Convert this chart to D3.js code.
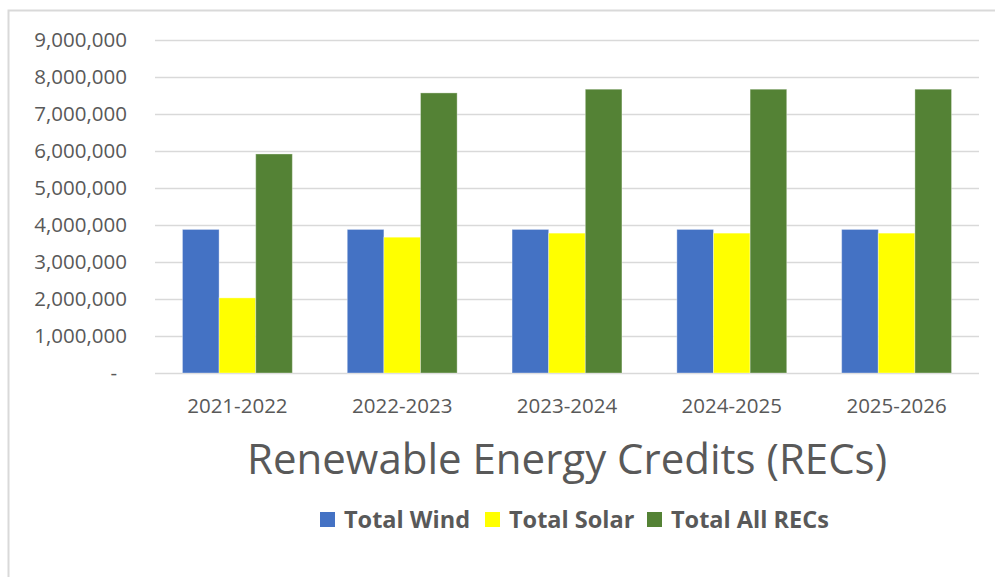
<html>
<head>
<style>
    body { margin: 0; background: #fff; }
    text { fill: #595959; }
    .grid line { stroke: #d9d9d9; stroke-width: 1.5; }
    .ylab { font-family: "Open Sans", sans-serif; font-size: 20.5px; }
    .xlab { font-family: "Open Sans", sans-serif; font-size: 20.5px; }
    .title { font-family: "Open Sans", sans-serif; font-size: 42px; }
    .legend text { font-family: "Open Sans", sans-serif; font-size: 23.5px; font-weight: bold; }
</style>
</head>
<body>
<div id="target"></div>
<script src="https://cdnjs.cloudflare.com/ajax/libs/d3/7.8.5/d3.min.js"></script>
<script>
    // values
    var categories = ['2021-2022', '2022-2023', '2023-2024', '2024-2025', '2025-2026'];
    var seriesNames = ['Total Wind', 'Total Solar', 'Total All RECs'];
    var seriesColors = ['#4472c4', '#ffff00', '#548235'];
    var totalWind = [3880000, 3880000, 3880000, 3880000, 3880000];
    var totalSolar = [2030000, 3670000, 3780000, 3780000, 3780000];
    var totalAll = [5920000, 7570000, 7670000, 7670000, 7670000];
    var yTicks = [0, 1000000, 2000000, 3000000, 4000000, 5000000, 6000000, 7000000, 8000000, 9000000];
    var titleText = 'Renewable Energy Credits (RECs)';

    var seriesValues = [totalWind, totalSolar, totalAll];

    var svg = d3.select('#target')
            .append('svg')
            .attr('width', 995)
            .attr('height', 577);

    // chart frame
    svg.append('rect')
            .attr('x', 8.5)
            .attr('y', 10.5)
            .attr('width', 1100)
            .attr('height', 700)
            .attr('fill', 'none')
            .attr('stroke', '#d9d9d9')
            .attr('stroke-width', 2);

    var x0 = d3.scaleBand()
            .domain(categories)
            .range([155, 979]);

    var y = d3.scaleLinear()
            .domain([0, 9000000])
            .range([373, 40]);

    var barW = x0.step() / 4.5;
    var x1 = d3.scaleBand()
            .domain(seriesNames)
            .range([0, barW * 3]);
    var groupOffset = (x0.step() - barW * 3) / 2;

    // gridlines
    var gGrid = svg.append('g').attr('class', 'grid');
    gGrid.selectAll('line')
            .data(yTicks)
            .enter()
            .append('line')
            .attr('x1', 155)
            .attr('x2', 979)
            .attr('y1', function (d) { return Math.round(y(d)) + 0.5; })
            .attr('y2', function (d) { return Math.round(y(d)) + 0.5; });

    // y labels
    var fmt = d3.format(',');
    svg.append('g').selectAll('text')
            .data(yTicks)
            .enter()
            .append('text')
            .attr('class', 'ylab')
            .attr('text-anchor', 'end')
            .attr('x', function (d) { return d === 0 ? 117 : 127; })
            .attr('y', function (d) { return y(d) + 7; })
            .text(function (d) { return d === 0 ? '-' : fmt(d); });

    // bars
    var gBars = svg.append('g').attr('class', 'bars');
    seriesNames.forEach(function (name, si) {
        gBars.selectAll('rect.s' + si)
                .data(seriesValues[si])
                .enter()
                .append('rect')
                .attr('class', 's' + si)
                .attr('x', function (d, i) { return x0(categories[i]) + groupOffset + x1(name); })
                .attr('width', x1.bandwidth())
                .attr('y', function (d) { return y(d); })
                .attr('height', function (d) { return y(0) - y(d); })
                .attr('fill', seriesColors[si])
                .attr('stroke', 'rgba(255,255,255,0.35)')
                .attr('stroke-width', 1);
    });

    // x labels
    svg.append('g').selectAll('text')
            .data(categories)
            .enter()
            .append('text')
            .attr('class', 'xlab')
            .attr('text-anchor', 'middle')
            .attr('x', function (d) { return x0(d) + x0.bandwidth() / 2; })
            .attr('y', 413)
            .text(function (d) { return d; });

    // title
    svg.append('text')
            .attr('class', 'title')
            .attr('text-anchor', 'middle')
            .attr('x', 567)
            .attr('y', 474)
            .text(titleText);

    // legend
    var legendX = [320, 485, 647];
    var gLegend = svg.append('g').attr('class', 'legend');
    var items = gLegend.selectAll('g')
            .data(seriesNames)
            .enter()
            .append('g')
            .attr('transform', function (d, i) { return 'translate(' + legendX[i] + ',512)'; });
    items.append('rect')
            .attr('width', 15)
            .attr('height', 15)
            .attr('fill', function (d, i) { return seriesColors[i]; });
    items.append('text')
            .attr('x', 24)
            .attr('y', 16)
            .text(function (d) { return d; });
</script>
</body>
</html>
